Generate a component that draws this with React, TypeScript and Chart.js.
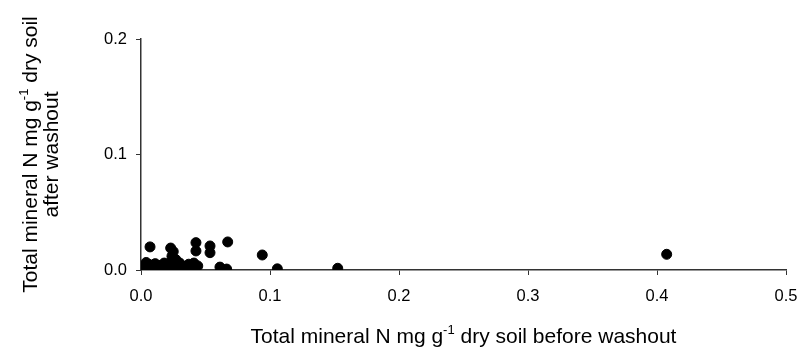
import React, { useEffect, useRef } from "react";
import { Chart, registerables } from "chart.js";

Chart.register(...registerables);

// Total mineral N (mg g-1 dry soil) before washout
const beforeWashout: number[] = [
  0.007, 0.023, 0.025, 0.0426, 0.0426, 0.0535, 0.0535, 0.0672, 0.094, 0.4075,
  0.0612, 0.0664, 0.1057, 0.1525,
  0.002, 0.003, 0.004, 0.005, 0.006, 0.008, 0.009, 0.011, 0.012, 0.014,
  0.016, 0.018, 0.019, 0.021, 0.023, 0.024, 0.026, 0.028, 0.030, 0.031,
  0.033, 0.035, 0.037, 0.039, 0.041, 0.042, 0.044, 0.027, 0.024,
];

// Total mineral N (mg g-1 dry soil) after washout
const afterWashout: number[] = [
  0.020, 0.019, 0.016, 0.0237, 0.0165, 0.0208, 0.015, 0.0243, 0.013, 0.0136,
  0.0025, 0.0008, 0.001, 0.0015,
  0.001, 0.004, 0.0065, 0.002, 0.005, 0.0005, 0.003, 0.0055, 0.001, 0.004,
  0.0015, 0.006, 0.0005, 0.003, 0.0065, 0.001, 0.004, 0.0015, 0.006, 0.0005,
  0.003, 0.001, 0.005, 0.002, 0.006, 0.0005, 0.0035, 0.009, 0.012,
];

const xTicks: number[] = [0, 0.1, 0.2, 0.3, 0.4, 0.5];
const yTicks: number[] = [0, 0.1, 0.2];

const xTitle: [string, string, string] = ["Total mineral N mg g", "-1", " dry soil before washout"];
const yTitleLine1: [string, string, string] = ["Total mineral N mg g", "-1", " dry soil"];
const yTitleLine2 = "after washout";

const FONT = "'Liberation Sans', Arial, Helvetica, sans-serif";
const AXIS_COLOR = "#333333";
const TITLE_SIZE = 21;
const TICK_SIZE = 16.5;

// Draws a line of text with a superscript part, centred on (cx, baseline y)
function drawSupText(
  ctx: CanvasRenderingContext2D,
  parts: [string, string, string],
  cx: number,
  y: number,
  size: number
) {
  const big = `${size}px ${FONT}`;
  const small = `${Math.round(size * 0.62)}px ${FONT}`;
  ctx.font = big;
  const w0 = ctx.measureText(parts[0]).width;
  const w2 = ctx.measureText(parts[2]).width;
  ctx.font = small;
  const w1 = ctx.measureText(parts[1]).width;
  let x = cx - (w0 + w1 + w2) / 2;
  ctx.textAlign = "left";
  ctx.textBaseline = "alphabetic";
  ctx.font = big;
  ctx.fillText(parts[0], x, y);
  x += w0;
  ctx.font = small;
  ctx.fillText(parts[1], x, y - size * 0.42);
  x += w1;
  ctx.font = big;
  ctx.fillText(parts[2], x, y);
}

const axisTitles = {
  id: "axisTitles",
  afterDraw(chart: Chart) {
    const { ctx, chartArea } = chart;
    ctx.save();
    ctx.fillStyle = "#000";
    const cx = (chartArea.left + chartArea.right) / 2;
    drawSupText(ctx, xTitle, cx, 343, TITLE_SIZE);

    const cy = (chartArea.top + chartArea.bottom) / 2;
    ctx.translate(0, cy);
    ctx.rotate(-Math.PI / 2);
    drawSupText(ctx, yTitleLine1, 0, 37, TITLE_SIZE);
    ctx.font = `${TITLE_SIZE}px ${FONT}`;
    ctx.textAlign = "center";
    ctx.fillText(yTitleLine2, 0, 58);
    ctx.restore();
  },
};

export default function App() {
  const canvasRef = useRef<HTMLCanvasElement | null>(null);

  useEffect(() => {
    if (!canvasRef.current) return;
    const points = beforeWashout.map((x, i) => ({ x, y: afterWashout[i] }));
    const chart = new Chart(canvasRef.current, {
      type: "scatter",
      data: {
        datasets: [
          {
            data: points,
            backgroundColor: "#000",
            borderColor: "#000",
            pointRadius: 5,
            pointHoverRadius: 5,
          },
        ],
      },
      options: {
        animation: false,
        responsive: false,
        maintainAspectRatio: false,
        events: [],
        layout: { padding: { left: 0, right: 13, top: 39, bottom: 0 }, autoPadding: false },
        plugins: { legend: { display: false }, tooltip: { enabled: false } },
        scales: {
          x: {
            type: "linear",
            min: 0,
            max: 0.5,
            afterBuildTicks: (s: any) => {
              s.ticks = xTicks.map((v) => ({ value: v }));
            },
            afterFit: (s: any) => {
              s.height = 79;
              s.paddingLeft = 0;
              s.paddingRight = 0;
            },
            ticks: {
              callback: (v: any) => Number(v).toFixed(1),
              color: "#000",
              font: { family: FONT, size: TICK_SIZE },
              padding: 12,
              maxRotation: 0,
            },
            grid: { drawOnChartArea: false, tickLength: 5, color: AXIS_COLOR, lineWidth: 1 },
            border: { display: true, color: AXIS_COLOR, width: 1.5 },
          },
          y: {
            type: "linear",
            min: 0,
            max: 0.2,
            afterBuildTicks: (s: any) => {
              s.ticks = yTicks.map((v) => ({ value: v }));
            },
            afterFit: (s: any) => {
              s.width = 141;
              s.paddingTop = 0;
              s.paddingBottom = 0;
            },
            ticks: {
              callback: (v: any) => Number(v).toFixed(1),
              color: "#000",
              font: { family: FONT, size: TICK_SIZE },
              padding: 9,
            },
            grid: { drawOnChartArea: false, tickLength: 5, color: AXIS_COLOR, lineWidth: 1 },
            border: { display: true, color: AXIS_COLOR, width: 1.5 },
          },
        },
      },
      plugins: [axisTitles],
    });
    return () => chart.destroy();
  }, []);

  return (
    <div style={{ position: "absolute", left: 0, top: 0, width: 799, height: 349, background: "#fff" }}>
      <canvas ref={canvasRef} width={799} height={349} style={{ display: "block" }} />
    </div>
  );
}
